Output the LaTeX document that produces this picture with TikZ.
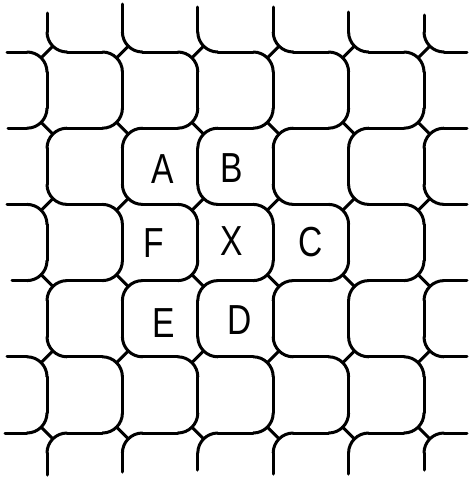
\documentclass[tikz,border=0pt]{standalone}
\usepackage{fontspec}
\setmainfont{Liberation Sans}
\newcommand\cellvertex[3]{% #1 = x, #2 = y (screen px), #3 = sign (1 for /, -1 for \)
  \draw[wall] (#1-\rr,#2) .. controls (#1-\kk,#2) and (#1,#2+#3*\kk) .. (#1,#2+#3*\rr);
  \draw[wall] (#1,#2-#3*\rr) .. controls (#1,#2-#3*\kk) and (#1+\kk,#2) .. (#1+\rr,#2);
  \draw[wall] (#1-\mm,#2+#3*\mm) -- (#1+\mm,#2-#3*\mm);
}
\begin{document}
\begin{tikzpicture}[x=0.5pt,y=-0.5pt,
  wall/.style={draw=black, line width=1.5pt, line cap=round, line join=round},
  lbl/.style={font=\fontsize{21}{21}\selectfont, inner sep=0pt, xscale=0.8}]
\useasboundingbox (0,0) rectangle (469,477);
\def\rr{20}
\def\kk{8.954}
\def\mm{5.858}
% junctions at every grid vertex
\foreach \j in {0,...,5}{
  \pgfmathsetmacro\vy{52+76.2*\j}
  \pgfmathsetmacro\sg{mod(\j,2)==0 ? 1 : -1}
  \foreach \i in {0,...,5}{
    \pgfmathsetmacro\vx{47+75.4*\i}
    \cellvertex{\vx}{\vy}{\sg}
  }
}
% horizontal walls
\foreach \j/\L in {0/7,1/8,2/7,3/12,4/7,5/5}{
  \pgfmathsetmacro\vy{52+76.2*\j}
  \draw[wall] (\L,\vy) -- (47-\rr,\vy);
  \draw[wall] (424+\rr,\vy) -- (467,\vy);
  \foreach \i in {0,...,4}{
    \pgfmathsetmacro\xa{47+75.4*\i+\rr}
    \pgfmathsetmacro\xb{47+75.4*(\i+1)-\rr}
    \draw[wall] (\xa,\vy) -- (\xb,\vy);
  }
}
% vertical walls
\foreach \i/\T/\B in {0/13/475,1/4/472,2/7/470,3/7/474,4/12/474,5/15/470}{
  \pgfmathsetmacro\vx{47+75.4*\i}
  \draw[wall] (\vx,\T) -- (\vx,52-\rr);
  \draw[wall] (\vx,433+\rr) -- (\vx,\B);
  \foreach \j in {0,...,4}{
    \pgfmathsetmacro\ya{52+76.2*\j+\rr}
    \pgfmathsetmacro\yb{52+76.2*(\j+1)-\rr}
    \draw[wall] (\vx,\ya) -- (\vx,\yb);
  }
}
% labels
\node[lbl] (A) at (163,169) {A};
\node[lbl] (B) at (232,168) {B};
\node[lbl] (F) at (154,243) {F};
\node[lbl] (X) at (232,241) {X};
\node[lbl] (C) at (311,242) {C};
\node[lbl] (E) at (164,323) {E};
\node[lbl] (D) at (240,320) {D};
\end{tikzpicture}
\end{document}
